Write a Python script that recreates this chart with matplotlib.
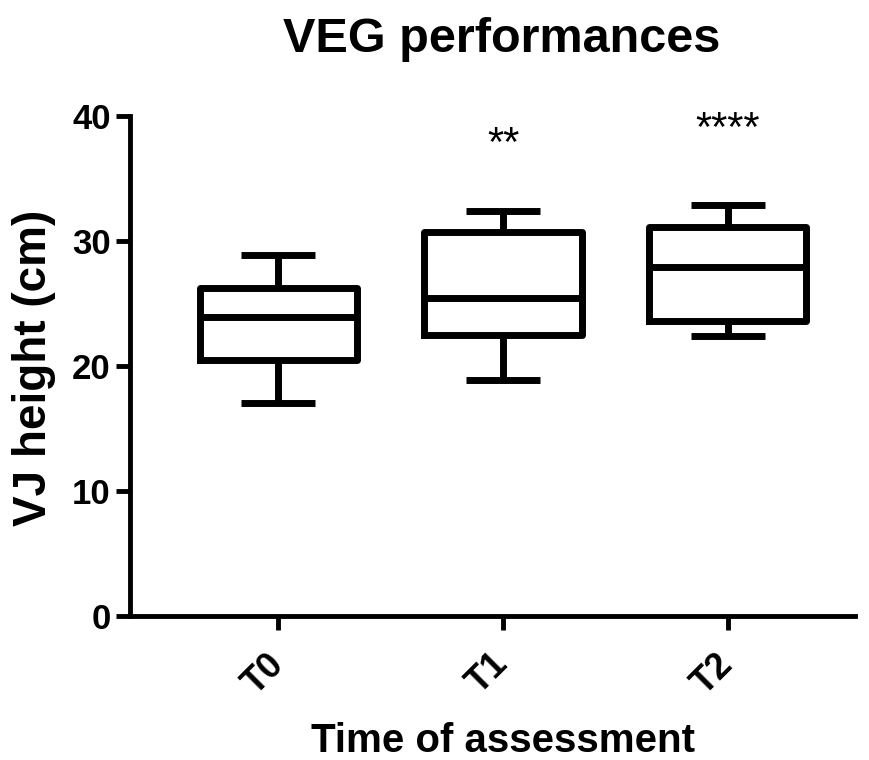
import matplotlib
matplotlib.use("Agg")
import matplotlib.pyplot as plt

# box summary values
groups = ["T0", "T1", "T2"]
whislo = [17.0, 18.9, 22.4]
q1 = [20.5, 22.5, 23.6]
med = [23.9, 25.4, 27.9]
q3 = [26.2, 30.7, 31.1]
whishi = [28.9, 32.4, 32.9]
stars = ["", "**", "****"]
star_y = [0, 36.8, 38.0]

plt.rcParams["font.family"] = ["Liberation Sans", "DejaVu Sans"]

fig = plt.figure(figsize=(8.7, 7.6), dpi=100)
ax = fig.add_axes([130 / 870, 144 / 760, 725 / 870, 500 / 760])

stats = [dict(label=g, whislo=a, q1=b, med=c, q3=d, whishi=e)
         for g, a, b, c, d, e in zip(groups, whislo, q1, med, q3, whishi)]
lw = 5
ax.bxp(stats, positions=range(len(groups)), widths=0.7, capwidths=0.33,
       showfliers=False,
       boxprops=dict(color="black", lw=lw),
       whiskerprops=dict(color="black", lw=lw, solid_capstyle="butt"),
       capprops=dict(color="black", lw=lw, solid_capstyle="butt"),
       medianprops=dict(color="black", lw=lw, solid_capstyle="butt"))

for i, s in enumerate(stars):
    if s:
        ax.text(i, star_y[i], s, ha="center", va="baseline", fontsize=30)

ax.set_xlim(-0.66, 2.566)
ax.set_ylim(0, 40)
ax.set_yticks([0, 10, 20, 30, 40])
ax.set_xticks(range(len(groups)))
ax.set_xticklabels(groups, rotation=45, ha="right", va="center",
                   rotation_mode="anchor", fontsize=26, fontweight="bold")
for t in ax.get_yticklabels():
    t.set_fontsize(25)
    t.set_fontweight("bold")
ax.tick_params(axis="both", width=3.5, length=10, color="black")
ax.tick_params(axis="x", pad=21)
ax.tick_params(axis="y", pad=4)
for side in ("top", "right"):
    ax.spines[side].set_visible(False)
for side in ("left", "bottom"):
    ax.spines[side].set_linewidth(3.5)

fig.text(502 / 870, 1 - 52 / 760, "VEG performances", ha="center", va="baseline",
         fontsize=35, fontweight="bold")
fig.text(503 / 870, 1 - 752 / 760, "Time of assessment", ha="center", va="baseline",
         fontsize=29, fontweight="bold")
fig.text(34 / 870, 1 - 368 / 760, "VJ height (cm)", ha="center", va="center",
         rotation=90, fontsize=33, fontweight="bold")

fig.savefig("out.png", dpi=100)
